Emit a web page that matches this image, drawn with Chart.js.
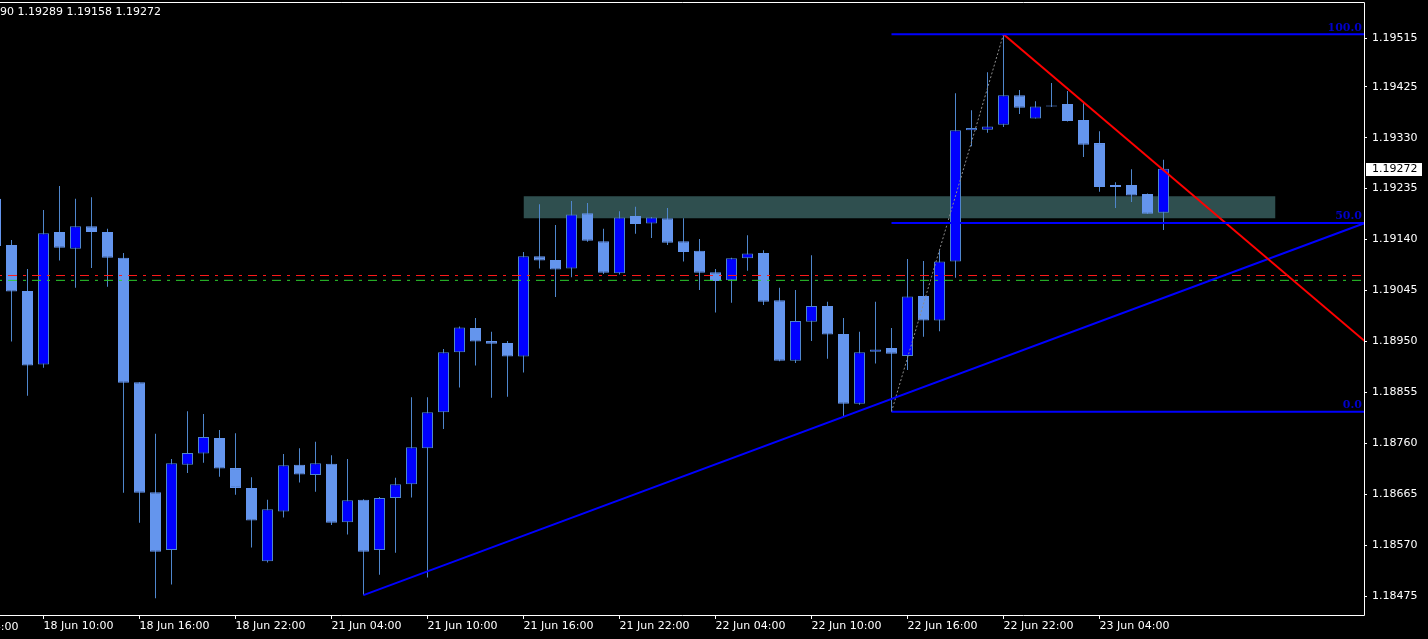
<!DOCTYPE html>
<html>
<head>
<meta charset="utf-8">
<script src="https://cdn.jsdelivr.net/npm/chart.js@4.4.1/dist/chart.umd.min.js"></script>
<style>
	html,body{margin:0;padding:0;background:#000;overflow:hidden;}
	#wrap{position:relative;width:1428px;height:639px;}
	#head{position:absolute;left:0;top:5px;font:11px "DejaVu Sans";line-height:13px;color:#fff;white-space:pre;}
</style>
</head>
<body>
<div id="wrap">
	<canvas id="c" width="1428" height="639"></canvas>
	<div id="head">90 1.19289 1.19158 1.19272</div>
</div>
<script>
// H1 candles, index 0 = 18 Jun 10:00
let firstIdx = -3
let opens  = [1.19216,1.19130,1.19044,1.18907,1.19154,1.19123,1.19165,1.19154,1.19106,1.18874,1.18669,1.18561,1.18720,1.18741,1.18770,1.18714,1.18677,1.18540,1.18633,1.18720,1.18701,1.18722,1.18613,1.18655,1.18561,1.18658,1.18684,1.18751,1.18818,1.18930,1.18975,1.18951,1.18947,1.18922,1.19109,1.19102,1.19086,1.19189,1.19137,1.19077,1.19184,1.19170,1.19180,1.19137,1.19119,1.19079,1.19064,1.19105,1.19115,1.19027,1.18914,1.18987,1.19016,1.18964,1.18834,1.18931,1.18938,1.18923,1.19035,1.18989,1.19099,1.19344,1.19345,1.19354,1.19409,1.19366,1.19390,1.19393,1.19363,1.19320,1.19242,1.19242,1.19225,1.19190]
let highs  = [1.19232,1.19139,1.19085,1.19195,1.19240,1.19216,1.19219,1.19160,1.19115,1.18874,1.18778,1.18731,1.18820,1.18815,1.18785,1.18779,1.18697,1.18655,1.18740,1.18751,1.18763,1.18738,1.18731,1.18656,1.18660,1.18696,1.18846,1.18846,1.18936,1.18978,1.18994,1.18968,1.18951,1.19117,1.19206,1.19167,1.19212,1.19208,1.19160,1.19193,1.19201,1.19182,1.19199,1.19180,1.19141,1.19085,1.19106,1.19148,1.19120,1.19050,1.19046,1.19111,1.19024,1.18994,1.18968,1.19024,1.18975,1.19104,1.19100,1.19120,1.19413,1.19381,1.19452,1.19523,1.19419,1.19398,1.19432,1.19417,1.19394,1.19342,1.19247,1.19271,1.19226,1.19289]
let lows   = [1.19120,1.18950,1.18849,1.18901,1.19101,1.19050,1.19087,1.19052,1.18668,1.18612,1.18471,1.18497,1.18705,1.18724,1.18698,1.18664,1.18566,1.18538,1.18622,1.18687,1.18670,1.18608,1.18590,1.18477,1.18515,1.18556,1.18659,1.18510,1.18787,1.18864,1.18905,1.18845,1.18847,1.18892,1.19086,1.19033,1.19070,1.19136,1.19076,1.19075,1.19151,1.19143,1.19130,1.19099,1.19046,1.19004,1.19022,1.19082,1.19018,1.18913,1.18910,1.18951,1.18918,1.18811,1.18832,1.18909,1.18819,1.18897,1.18959,1.18969,1.19069,1.19314,1.19339,1.19350,1.19374,1.19366,1.19387,1.19360,1.19294,1.19229,1.19199,1.19210,1.19188,1.19158]
let closes = [1.19128,1.19043,1.18905,1.19152,1.19125,1.19165,1.19154,1.19106,1.18873,1.18668,1.18558,1.18723,1.18742,1.18772,1.18713,1.18677,1.18616,1.18637,1.18719,1.18702,1.18723,1.18612,1.18654,1.18558,1.18658,1.18684,1.18753,1.18818,1.18930,1.18976,1.18950,1.18946,1.18922,1.19109,1.19101,1.19084,1.19187,1.19138,1.19078,1.19181,1.19169,1.19181,1.19134,1.19117,1.19078,1.19063,1.19105,1.19114,1.19024,1.18914,1.18988,1.19016,1.18963,1.18834,1.18930,1.18935,1.18927,1.19034,1.18989,1.19099,1.19344,1.19348,1.19351,1.19409,1.19386,1.19388,1.19388,1.19361,1.19317,1.19238,1.19238,1.19222,1.19188,1.19272]

let xTickIdx    = [-6,0,6,12,18,24,30,36,42,48,54,60,66]
let xTickLabels = ['18 Jun 04:00','18 Jun 10:00','18 Jun 16:00','18 Jun 22:00','21 Jun 04:00','21 Jun 10:00','21 Jun 16:00','21 Jun 22:00','22 Jun 04:00','22 Jun 10:00','22 Jun 16:00','22 Jun 22:00','23 Jun 04:00']
let yTicks = [1.18475,1.18570,1.18665,1.18760,1.18855,1.18950,1.19045,1.19140,1.19235,1.19330,1.19425,1.19515]

// objects drawn on the chart
let zoneX = [30,77]
let zoneY = [1.19180,1.19221]
let blueTrendX = [20,82.6]
let blueTrendY = [1.18477,1.19171]
let redTrendX = [60,82.6]
let redTrendY = [1.19523,1.18950]
let fibX = [53,82.6]
let fibPrices = [1.18819,1.19171,1.19523]
let fibNames = ['0.0','50.0','100.0']
let fibDiagX = [53,60]
let fibDiagY = [1.18819,1.19523]
let redLevel = 1.19073
let greenLevel = 1.19064

let xMin = -2.71875, xMax = 82.53125
let yMin = 1.18440, yMax = 1.19583

let bullFill = '#0000ff', bearFill = '#6495ed', edge = '#4f86cc'

let idx = opens.map((o,i)=>firstIdx+i)
let wicks = idx.map((k,i)=>({x:k,y:[lows[i],highs[i]]}))
let bodies = idx.map((k,i)=>({x:k,y:[Math.min(opens[i],closes[i]),Math.max(opens[i],closes[i])]}))
let bodyFill = opens.map((o,i)=>closes[i]>o?bullFill:bearFill)
let bodyEdge = opens.map((o,i)=>closes[i]>o?edge:bearFill)

let seg = (xs,ys)=>[{x:xs[0],y:ys[0]},{x:xs[1],y:ys[1]}]
let lineDs = (data,color,width,dash,order)=>({
	type:'line',data:data,borderColor:color,borderWidth:width,borderDash:dash||[],
	pointRadius:0,fill:false,tension:0,order:order
})

let datasets = [
	{type:'line',data:seg(zoneX,[zoneY[1],zoneY[1]]),borderColor:'transparent',borderWidth:0,pointRadius:0,
	 fill:'+1',backgroundColor:'#2f4f4f',order:20},
	{type:'line',data:seg(zoneX,[zoneY[0],zoneY[0]]),borderColor:'transparent',borderWidth:0,pointRadius:0,
	 fill:false,order:21},
	{type:'bar',data:wicks,backgroundColor:edge,barThickness:1,grouped:false,inflateAmount:0,order:11},
	{type:'bar',data:bodies,backgroundColor:bodyFill,borderColor:bodyEdge,borderWidth:1,borderSkipped:false,
	 barThickness:11,grouped:false,inflateAmount:0,order:10},
	lineDs(seg([xMin-1,xMax+1],[redLevel,redLevel]),'#ff1a1a',1,[9,6,3,6],6),
	lineDs(seg([xMin-1,xMax+1],[greenLevel,greenLevel]),'#2ecc2e',1,[9,6,3,6],5),
	lineDs(seg(fibDiagX,fibDiagY),'#8c8c8c',1,[2,2],4),
	lineDs(seg(blueTrendX,blueTrendY),'#0000ff',2,null,3),
	lineDs(seg(redTrendX,redTrendY),'#ff0000',2,null,2)
]
fibPrices.forEach(p=>{
	datasets.push(lineDs(seg(fibX,[p,p]),'#0000ff',2,null,1))
})

// frame, fib texts, last price box
let extras = {
	id:'extras',
	afterDraw:(chart)=>{
		let c = chart.ctx, a = chart.chartArea
		let xs = chart.scales.x, ys = chart.scales.y
		c.save()
		c.strokeStyle = '#fff'
		c.lineWidth = 1
		c.beginPath()
		c.moveTo(a.left,a.top+0.5); c.lineTo(a.right+0.5,a.top+0.5)
		c.lineTo(a.right+0.5,a.bottom+0.5); c.lineTo(a.left,a.bottom+0.5)
		c.stroke()

		c.font = 'bold 11px "DejaVu Serif"'
		c.fillStyle = '#0000c8'
		c.textAlign = 'right'
		c.textBaseline = 'bottom'
		fibPrices.forEach((p,i)=>{
			c.fillText(fibNames[i],a.right-2,ys.getPixelForValue(p)-1)
		})

		// tick label cut by the left edge
		c.font = '11px "DejaVu Sans"'
		c.fillStyle = '#fff'
		c.textAlign = 'left'
		c.textBaseline = 'middle'
		xTickIdx.forEach((v,i)=>{
			if(v<xs.min) c.fillText(xTickLabels[i],xs.getPixelForValue(v)+1,627)
		})

		let last = closes[closes.length-1]
		let py = Math.round(ys.getPixelForValue(last))
		c.fillStyle = '#fff'
		c.fillRect(a.right+2,py-6,56,13)
		c.fillStyle = '#000'
		c.fillText(last.toFixed(5),a.right+8,py+0.5)
		c.restore()
	}
}

new Chart(document.getElementById('c'),{
	type:'bar',
	data:{datasets:datasets},
	options:{
		responsive:false,
		animation:false,
		layout:{padding:{top:2,left:0,right:0,bottom:0}},
		plugins:{legend:{display:false},tooltip:{enabled:false}},
		scales:{
			x:{
				type:'linear',min:xMin,max:xMax,offset:false,
				grid:{offset:false,drawOnChartArea:false,color:'#fff',tickLength:4},
				border:{display:false},
				afterBuildTicks:s=>{ s.ticks = xTickIdx.filter(v=>v>=s.min).map(v=>({value:v})) },
				afterFit:s=>{ s.height = 24; s.paddingLeft = 0; s.paddingRight = 0 },
				ticks:{
					color:'#fff',font:{family:'DejaVu Sans',size:11},align:'start',
					autoSkip:false,maxRotation:0,padding:1,
					callback:v=>xTickLabels[xTickIdx.indexOf(v)]||''
				}
			},
			y:{
				type:'linear',position:'right',min:yMin,max:yMax,
				grid:{drawOnChartArea:false,color:'#fff',tickLength:3},
				border:{display:false},
				afterBuildTicks:s=>{ s.ticks = yTicks.map(v=>({value:v})) },
				afterFit:s=>{ s.width = 64; s.paddingTop = 0; s.paddingBottom = 0 },
				ticks:{
					color:'#fff',font:{family:'DejaVu Sans',size:11},padding:5,
					callback:v=>v.toFixed(5)
				}
			}
		}
	},
	plugins:[extras]
})
</script>
</body>
</html>
